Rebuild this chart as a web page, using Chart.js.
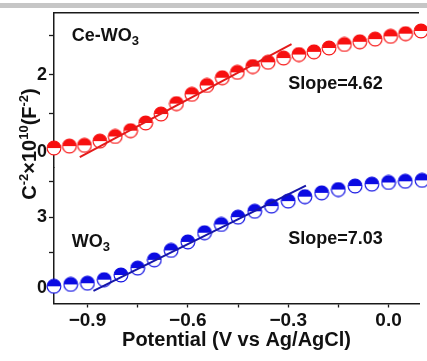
<!DOCTYPE html>
<html>
<head>
<meta charset="utf-8">
<script src="https://cdn.jsdelivr.net/npm/chart.js@4.4.0/dist/chart.umd.min.js"></script>
<style>
  html, body { margin: 0; padding: 0; background: #fff; overflow: hidden; }
  #wrap { position: relative; width: 427px; height: 361px; }
</style>
</head>
<body>
<div id="wrap"><canvas id="ms" width="427" height="361"></canvas></div>
<script>
// Mott-Schottky data: potential (V vs Ag/AgCl) and C^-2 (x10^10 F^-2)
const ceWO3Potential = [-1.000, -0.954, -0.909, -0.863, -0.817, -0.771, -0.726, -0.680, -0.634,
  -0.588, -0.543, -0.497, -0.452, -0.406, -0.360, -0.314, -0.268, -0.223, -0.178, -0.132,
  -0.086, -0.040, 0.006, 0.051, 0.097];
const ceWO3InvC2 = [0.10, 0.15, 0.17, 0.28, 0.40, 0.55, 0.75, 0.98, 1.25,
  1.49, 1.72, 1.92, 2.06, 2.21, 2.32, 2.43, 2.52, 2.59, 2.69, 2.78,
  2.85, 2.92, 2.99, 3.06, 3.13];

const wo3Potential = [-1.00, -0.95, -0.90, -0.85, -0.80, -0.75, -0.70, -0.65, -0.60, -0.55,
  -0.50, -0.45, -0.40, -0.35, -0.30, -0.25, -0.20, -0.15, -0.10, -0.05, 0.00, 0.05, 0.10];
const wo3InvC2 = [0.07, 0.15, 0.20, 0.35, 0.55, 0.84, 1.19, 1.59, 1.95, 2.34,
  2.69, 3.00, 3.25, 3.47, 3.68, 3.87, 4.03, 4.17, 4.32, 4.40, 4.47, 4.52, 4.56];

// Linear fits of the depletion region
const ceWO3Slope = 4.62;
const ceWO3Intercept = 4.132;
const ceWO3FitRange = [-0.923, -0.290];
const wo3Slope = 7.03;
const wo3Intercept = 6.074;
const wo3FitRange = [-0.882, -0.247];

// Axis ticks (majors carry labels, the rest are minor marks)
const potentialTicks = [-0.9, -0.75, -0.6, -0.45, -0.3, -0.15, 0.0];
const potentialLabelled = [-0.9, -0.6, -0.3, 0.0];
const ceWO3Ticks = [0, 1, 2, 3];
const ceWO3Labelled = [0, 2];
const wo3Ticks = [0, 1.5, 3, 4.5];
const wo3Labelled = [0, 3];

const RED = '#f71010';
const BLUE = '#0b0be2';
const FONT = '"Liberation Sans", Arial, sans-serif';

function halfFilledMarker(color) {
  const c = document.createElement('canvas');
  c.width = 16; c.height = 16;
  const g = c.getContext('2d');
  const cx = 8, cy = 8, r = 6.9;
  g.beginPath(); g.arc(cx, cy, r, 0, Math.PI * 2); g.fillStyle = '#fff'; g.fill();
  g.beginPath(); g.arc(cx, cy, r, Math.PI, Math.PI * 2); g.closePath();
  g.fillStyle = color; g.fill();
  g.beginPath(); g.arc(cx, cy, r, 0, Math.PI * 2);
  g.lineWidth = 1.1; g.strokeStyle = color; g.stroke();
  return c;
}

function toPoints(xs, ys) { return xs.map((x, i) => ({ x: x, y: ys[i] })); }
function fitLine(slope, intercept, range) {
  return range.map(x => ({ x: x, y: slope * x + intercept }));
}
function fixedTicks(values) {
  return scale => { scale.ticks = values.map(v => ({ value: v })); };
}
function labelOnly(values, fmt) {
  return v => values.some(l => Math.abs(l - v) < 1e-9) ? fmt(v) : '';
}
const potFmt = v => (v < -1e-9 ? '\u2212' : '') + Math.abs(v).toFixed(1);

// Draw a run of text pieces with their own size and vertical shift
function drawRich(ctx, parts, x, y, align) {
  let total = 0;
  parts.forEach(p => { ctx.font = 'bold ' + p.size + 'px ' + FONT; total += ctx.measureText(p.t).width; });
  let cx = align === 'center' ? x - total / 2 : x;
  ctx.textAlign = 'left';
  ctx.textBaseline = 'alphabetic';
  parts.forEach(p => {
    ctx.font = 'bold ' + p.size + 'px ' + FONT;
    ctx.fillText(p.t, cx, y + (p.dy || 0));
    cx += ctx.measureText(p.t).width;
  });
}

const decorations = {
  id: 'decorations',
  beforeDraw(chart) {
    const ctx = chart.ctx;
    ctx.save();
    ctx.fillStyle = '#c6c6c6';
    ctx.fillRect(0, 3, chart.width, 5);
    ctx.restore();
  },
  afterDraw(chart) {
    const ctx = chart.ctx;
    const a = chart.chartArea;
    const xs = chart.scales.x, yt = chart.scales.yCe, yb = chart.scales.yWO3;
    ctx.save();
    // top frame
    ctx.strokeStyle = '#1a1a1a';
    ctx.lineWidth = 1.5;
    ctx.beginPath(); ctx.moveTo(a.left, a.top); ctx.lineTo(a.right, a.top); ctx.stroke();

    ctx.fillStyle = '#111';
    drawRich(ctx, [{ t: 'Ce-WO', size: 18 }, { t: '3', size: 13, dy: 4 }],
      xs.getPixelForValue(-0.947), yt.getPixelForValue(2.87));
    drawRich(ctx, [{ t: 'Slope=4.62', size: 18 }],
      xs.getPixelForValue(-0.3), yt.getPixelForValue(1.62));
    drawRich(ctx, [{ t: 'WO', size: 18 }, { t: '3', size: 13, dy: 4 }],
      xs.getPixelForValue(-0.947), yb.getPixelForValue(1.75));
    drawRich(ctx, [{ t: 'Slope=7.03', size: 18 }],
      xs.getPixelForValue(-0.3), yb.getPixelForValue(1.85));

    // y-axis title, rotated
    ctx.translate(36, 144);
    ctx.rotate(-Math.PI / 2);
    drawRich(ctx, [
      { t: 'C', size: 20 }, { t: '-2', size: 13, dy: -8 },
      { t: '\u00d710', size: 20 }, { t: '10', size: 13, dy: -8 },
      { t: '(F', size: 20 }, { t: '-2', size: 13, dy: -8 }, { t: ')', size: 20 }
    ], 0, 0, 'center');
    ctx.restore();
  }
};

const axisBorder = { display: true, color: '#1a1a1a', width: 1.5 };
const tickGrid = { display: true, drawOnChartArea: false, drawTicks: true, tickLength: 5, tickColor: '#1a1a1a', tickWidth: 1.3 };

new Chart(document.getElementById('ms'), {
  type: 'scatter',
  data: {
    datasets: [
      { data: fitLine(ceWO3Slope, ceWO3Intercept, ceWO3FitRange), yAxisID: 'yCe', showLine: true,
        borderColor: '#e41a1a', borderWidth: 2, pointRadius: 0 },
      { data: fitLine(wo3Slope, wo3Intercept, wo3FitRange), yAxisID: 'yWO3', showLine: true,
        borderColor: '#1616a8', borderWidth: 2, pointRadius: 0 },
      { label: 'Ce-WO3', data: toPoints(ceWO3Potential, ceWO3InvC2), yAxisID: 'yCe',
        pointStyle: halfFilledMarker(RED), pointRadius: 7, clip: false },
      { label: 'WO3', data: toPoints(wo3Potential, wo3InvC2), yAxisID: 'yWO3',
        pointStyle: halfFilledMarker(BLUE), pointRadius: 7, clip: false }
    ]
  },
  options: {
    responsive: false,
    animation: false,
    devicePixelRatio: 1,
    layout: { padding: { top: 9, right: 0, bottom: 0, left: 0 } },
    plugins: { legend: { display: false }, tooltip: { enabled: false } },
    scales: {
      x: {
        type: 'linear', position: 'bottom', min: -1.0, max: 0.091,
        afterBuildTicks: fixedTicks(potentialTicks),
        afterFit: s => { s.height = 57.5; },
        border: axisBorder, grid: { ...tickGrid, tickLength: 4 },
        ticks: { autoSkip: false, maxRotation: 0, padding: 2, color: '#111',
          font: { family: FONT, size: 19, weight: 'bold' },
          callback: labelOnly(potentialLabelled, potFmt) },
        title: { display: true, text: 'Potential (V vs Ag/AgCl)', color: '#111',
          font: { family: FONT, size: 20, weight: 'bold' }, padding: { top: 0, bottom: 9 } }
      },
      yCe: {
        type: 'linear', position: 'left', stack: 'panels', stackWeight: 156.6, weight: 2,
        min: -0.4, max: 3.6,
        afterBuildTicks: fixedTicks(ceWO3Ticks),
        afterFit: s => { s.width = 54; },
        border: axisBorder, grid: tickGrid,
        ticks: { autoSkip: false, padding: 2, color: '#111',
          font: { family: FONT, size: 18, weight: 'bold' },
          callback: labelOnly(ceWO3Labelled, v => String(v)) }
      },
      yWO3: {
        type: 'linear', position: 'left', stack: 'panels', stackWeight: 137.9, weight: 1,
        min: -0.66, max: 5.11,
        afterBuildTicks: fixedTicks(wo3Ticks),
        afterFit: s => { s.width = 54; },
        border: axisBorder, grid: tickGrid,
        ticks: { autoSkip: false, padding: 2, color: '#111',
          font: { family: FONT, size: 18, weight: 'bold' },
          callback: labelOnly(wo3Labelled, v => String(v)) }
      }
    }
  },
  plugins: [decorations]
});
</script>
</body>
</html>
